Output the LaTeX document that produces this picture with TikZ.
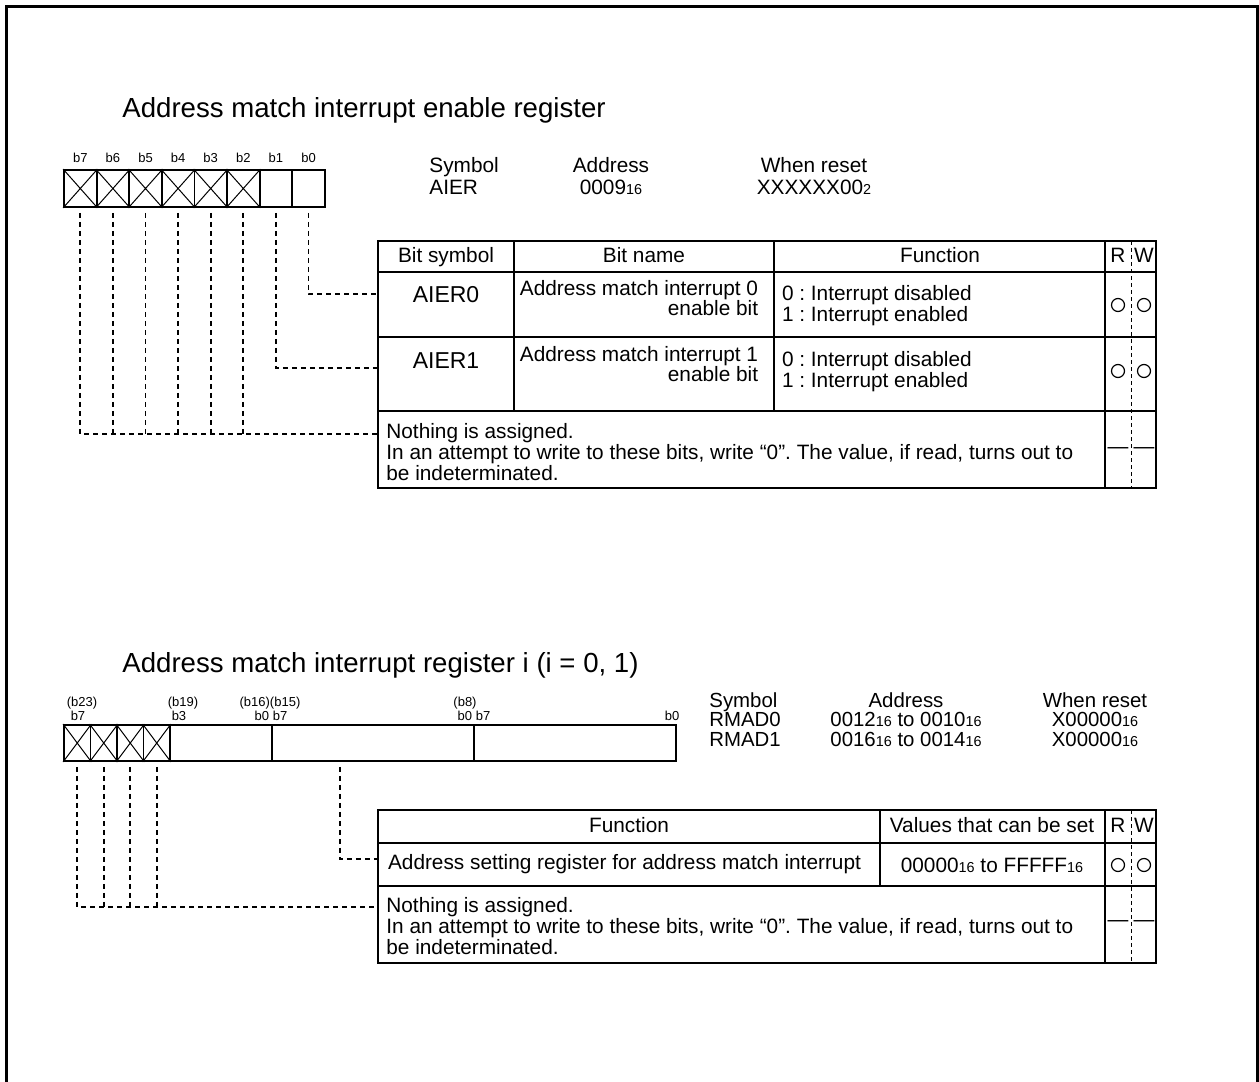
\documentclass[tikz,border=0pt]{standalone}
\usepackage{fontspec}
\setmainfont{Liberation Sans}
\usetikzlibrary{positioning}

\newcommand{\hexsub}{{\fontsize{7.2}{7}\selectfont 16}}
\newcommand{\binsub}{{\fontsize{7.2}{7}\selectfont 2}}

\begin{document}
\frenchspacing
\begin{tikzpicture}[x=0.5pt, y=-0.5pt,
    font=\fontsize{10.4}{10.4}\selectfont,
    cell/.style={draw, line width=0.9pt, minimum width=16.3pt, minimum height=18.5pt, inner sep=0pt},
    cellb/.style={draw, line width=0.9pt, minimum width=13.25pt, minimum height=18pt, inner sep=0pt},
    xline/.style={line width=0.5pt},
    bitlbl/.style={font=\fontsize{6.5}{7}\selectfont, inner sep=0pt},
    link/.style={line width=0.9pt, dash pattern=on 2.5pt off 2pt, shorten <=2.5pt},
    tblline/.style={line width=0.9pt},
    rwsep/.style={line width=0.4pt, dash pattern=on 2pt off 1.5pt},
    okmark/.style={circle, draw, line width=0.6pt, minimum size=6.5pt, inner sep=0pt},
    title/.style={font=\fontsize{13.8}{16}\selectfont, anchor=west, inner sep=0pt},
    info/.style={inner sep=0pt, font=\fontsize{10.4}{11}\selectfont},
    info2/.style={inner sep=0pt, font=\fontsize{10.2}{9.9}\selectfont},
    hd/.style={text height=0.72em, text depth=0.2em},
    big/.style={font=\fontsize{11.5}{12}\selectfont},
]
    \useasboundingbox (0,0) rectangle (1259,1082);
    \draw[line width=1.5pt] (6,1082) -- (6,6) -- (1257,6) -- (1257,1082);

    % --- enable register ---
    \node[title] (ttl1) at (122,110) {Address match interrupt enable register};

    \foreach \i in {0,...,7} {
        \pgfmathtruncatemacro{\b}{7-\i}
        \node[cell] (a\b) at ({80.3+32.6*\i},188.5) {};
        \node[bitlbl] (la\b) at ({80.3+32.6*\i},158) {b\b};
    }
    \foreach \b in {7,...,2}
        \draw[xline] (a\b.north west) -- (a\b.south east) (a\b.north east) -- (a\b.south west);

    \node[info, anchor=north west, align=left] (sym1) at (429,157) {Symbol\\AIER};
    \node[info, anchor=north, align=center] (adr1) at (611,157) {Address\\0009\hexsub};
    \node[info, anchor=north, align=center] (rst1) at (814,157) {When reset\\XXXXXX00\binsub};

    % table
    \draw[tblline] (378,241) rectangle (1156,488);
    \draw[tblline] (378,272) -- (1156,272) (378,337) -- (1156,337) (378,411) -- (1156,411);
    \draw[tblline] (514,241) -- (514,411) (774,241) -- (774,411) (1105,241) -- (1105,488);
    \draw[rwsep] (1131,241) -- (1131,488);

    \node[hd] (h1sym) at (446,257) {Bit symbol};
    \node[hd] (h1name) at (644,257) {Bit name};
    \node[hd] (h1fn) at (940,257) {Function};
    \node[hd] (h1r) at (1118,257) {R};
    \node[hd] (h1w) at (1144,257) {W};

    \node[big] (s0) at (446,295) {AIER0};
    \node[align=right] (n0) at (639,298) {Address match interrupt 0\\enable bit};
    \node[align=left, anchor=west] (f0) at (775,306) {0 : Interrupt disabled\\1 : Interrupt enabled};
    \node[okmark] (r0) at (1118,305) {};
    \node[okmark] (w0) at (1144,305) {};

    \node[big] (s1) at (446,361) {AIER1};
    \node[align=right] (n1) at (639,364) {Address match interrupt 1\\enable bit};
    \node[align=left, anchor=west] (f1) at (775,372) {0 : Interrupt disabled\\1 : Interrupt enabled};
    \node[okmark] (r1) at (1118,371) {};
    \node[okmark] (w1) at (1144,371) {};

    \node[align=left, anchor=north west, inner sep=0pt] (na1) at (386,423) {Nothing is assigned.\\In an attempt to write to these bits, write “0”. The value, if read, turns out to\\be indeterminated.};
    \node (dr1) at (1118,451) {—};
    \node (dw1) at (1144,451) {—};

    \coordinate (t1r0) at (378,294);
    \coordinate (t1r1) at (378,368);
    \coordinate (t1r2) at (378,434);
    \draw[link] (a0.south) |- (t1r0);
    \draw[link] (a1.south) |- (t1r1);
    \draw[link] (a7.south) |- (t1r2);
    \foreach \b in {6,...,2}
        \draw[link] (a\b.south) -- (a\b.south |- t1r2);

    % --- match register i ---
    \node[title] (ttl2) at (122,665) {Address match interrupt register i (i = 0, 1)};

    \foreach \i in {0,...,3} {
        \node[cellb] (c\i) at ({77.25+26.5*\i},743) {};
        \draw[xline] (c\i.north west) -- (c\i.south east) (c\i.north east) -- (c\i.south west);
    }
    \node[cell, minimum width=51pt, minimum height=18pt] (hi) at (221,743) {};
    \node[cell, minimum width=101pt, minimum height=18pt] (mid) at (373,743) {};
    \node[cell, minimum width=101pt, minimum height=18pt] (lo) at (575,743) {};

    \node[bitlbl] (lb23) at (82,703) {(b23)};
    \node[bitlbl] (lb7a) at (78,716) {b7};
    \node[bitlbl] (lb19) at (183,703) {(b19)};
    \node[bitlbl] (lb3) at (179,716) {b3};
    \node[bitlbl] (lb16) at (270,703) {(b16)(b15)};
    \node[bitlbl] (lb0b) at (271,716) {b0 b7};
    \node[bitlbl] (lb8) at (465,703) {(b8)};
    \node[bitlbl] (lb0c) at (474,716) {b0 b7};
    \node[bitlbl] (lb0d) at (672,716) {b0};

    \node[info2, anchor=north west, align=left] (sym2) at (709,692) {Symbol\\RMAD0\\RMAD1};
    \node[info2, anchor=north, align=center] (adr2) at (906,692) {Address\\0012\hexsub{} to 0010\hexsub\\0016\hexsub{} to 0014\hexsub};
    \node[info2, anchor=north, align=center] (rst2) at (1095,692) {When reset\\X00000\hexsub\\X00000\hexsub};

    % table
    \draw[tblline] (378,810) rectangle (1156,963);
    \draw[tblline] (378,843) -- (1156,843) (378,886) -- (1156,886);
    \draw[tblline] (880,810) -- (880,886) (1105,810) -- (1105,963);
    \draw[rwsep] (1131,810) -- (1131,963);

    \node[hd] (h2fn) at (629,827) {Function};
    \node[hd] (h2val) at (992,827) {Values that can be set};
    \node[hd] (h2r) at (1118,827) {R};
    \node[hd] (h2w) at (1144,827) {W};

    \node[anchor=west] (fn2) at (381,864) {Address setting register for address match interrupt};
    \node (val2) at (992,865) {00000\hexsub{} to FFFFF\hexsub};
    \node[okmark] (r2) at (1118,865) {};
    \node[okmark] (w2) at (1144,865) {};

    \node[align=left, anchor=north west, inner sep=0pt] (na2) at (386,897) {Nothing is assigned.\\In an attempt to write to these bits, write “0”. The value, if read, turns out to\\be indeterminated.};
    \node (dr2) at (1118,924) {—};
    \node (dw2) at (1144,924) {—};

    \coordinate (t2r0) at (378,859);
    \coordinate (t2r1) at (378,907);
    \draw[link] ([xshift=-16.5pt]mid.south) |- (t2r0);
    \draw[link] (c0.south) |- (t2r1);
    \foreach \i in {1,2,3}
        \draw[link] (c\i.south) -- (c\i.south |- t2r1);
\end{tikzpicture}
\end{document}
